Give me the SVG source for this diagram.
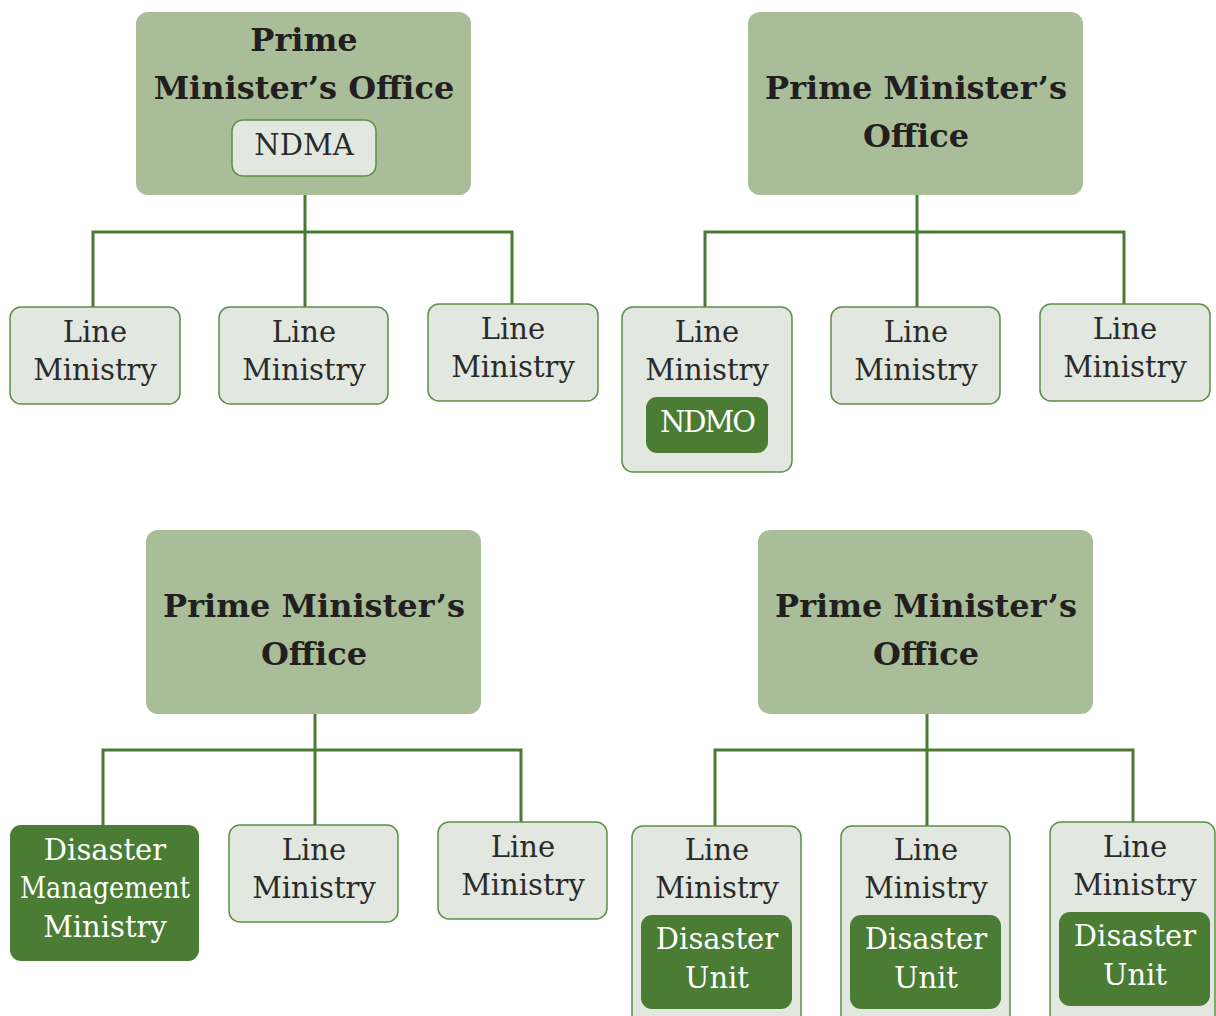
<svg xmlns="http://www.w3.org/2000/svg" width="1216" height="1016" viewBox="0 0 1216 1016">
<style>
.pmo{fill:#a9be98;}
.lm{fill:#e2e7df;stroke:#5e8f47;stroke-width:1.5;}
.dk{fill:#4a7c34;}
.t{font-family:"DejaVu Serif","Liberation Serif",serif;font-weight:bold;font-size:32px;fill:#231f20;text-anchor:middle;}
.b{font-family:"DejaVu Serif","Liberation Serif",serif;font-size:29px;fill:#2a2a2a;text-anchor:middle;}
.w{font-family:"DejaVu Serif","Liberation Serif",serif;font-size:29px;fill:#ffffff;text-anchor:middle;}
.c{fill:none;stroke:#4a7a33;stroke-width:3;}
</style>
<g id="connectors">
<path class="c" d="M305 195V232M93 307V232H512V304M305 232V307"/>
<path class="c" d="M917 195V232M705 307V232H1124V304M917 232V307"/>
<path class="c" d="M315 714V750M103 825V750H521V822M315 750V825"/>
<path class="c" d="M927 714V750M715 826V750H1133V822M927 750V826"/>
</g>
<g id="pmo1">
<rect class="pmo" x="136" y="12" width="335" height="183" rx="12"/>
<text class="t" x="304" y="51">Prime</text>
<text class="t" x="304" y="99">Minister’s Office</text>
</g>
<g id="ndma">
<rect class="lm" x="232" y="120" width="144" height="56" rx="11"/>
<text class="b" x="304" y="155">NDMA</text>
</g>
<g id="lm1"><rect class="lm" x="10" y="307" width="170" height="97" rx="11"/><text class="b" x="95" y="342">Line</text><text class="b" x="95" y="380">Ministry</text></g>
<g id="lm2"><rect class="lm" x="219" y="307" width="169" height="97" rx="11"/><text class="b" x="304" y="342">Line</text><text class="b" x="304" y="380">Ministry</text></g>
<g id="lm3"><rect class="lm" x="428" y="304" width="170" height="97" rx="11"/><text class="b" x="513" y="339">Line</text><text class="b" x="513" y="377">Ministry</text></g>

<g id="pmo2">
<rect class="pmo" x="748" y="12" width="335" height="183" rx="12"/>
<text class="t" x="916" y="99">Prime Minister’s</text>
<text class="t" x="916" y="147">Office</text>
</g>
<g id="lm4"><rect class="lm" x="622" y="307" width="170" height="165" rx="11"/><text class="b" x="707" y="342">Line</text><text class="b" x="707" y="380">Ministry</text></g>
<g id="ndmo"><rect class="dk" x="646" y="397" width="122" height="56" rx="11"/><text class="w" x="707" y="432" letter-spacing="-2">NDMO</text></g>
<g id="lm5"><rect class="lm" x="831" y="307" width="169" height="97" rx="11"/><text class="b" x="916" y="342">Line</text><text class="b" x="916" y="380">Ministry</text></g>
<g id="lm6"><rect class="lm" x="1040" y="304" width="170" height="97" rx="11"/><text class="b" x="1125" y="339">Line</text><text class="b" x="1125" y="377">Ministry</text></g>

<g id="pmo3">
<rect class="pmo" x="146" y="530" width="335" height="184" rx="12"/>
<text class="t" x="314" y="617">Prime Minister’s</text>
<text class="t" x="314" y="665">Office</text>
</g>
<g id="dmm"><rect class="dk" x="10" y="825" width="189" height="136" rx="11"/>
<text class="w" x="105" y="860">Disaster</text>
<text class="w" x="105" y="898" textLength="170" lengthAdjust="spacingAndGlyphs">Management</text>
<text class="w" x="105" y="937">Ministry</text></g>
<g id="lm7"><rect class="lm" x="229" y="825" width="169" height="97" rx="11"/><text class="b" x="314" y="860">Line</text><text class="b" x="314" y="898">Ministry</text></g>
<g id="lm8"><rect class="lm" x="438" y="822" width="169" height="97" rx="11"/><text class="b" x="523" y="857">Line</text><text class="b" x="523" y="895">Ministry</text></g>

<g id="pmo4">
<rect class="pmo" x="758" y="530" width="335" height="184" rx="12"/>
<text class="t" x="926" y="617">Prime Minister’s</text>
<text class="t" x="926" y="665">Office</text>
</g>
<g id="lm9"><rect class="lm" x="632" y="826" width="169" height="210" rx="11"/><text class="b" x="717" y="860">Line</text><text class="b" x="717" y="898">Ministry</text></g>
<g id="du1"><rect class="dk" x="641" y="915" width="151" height="94" rx="11"/><text class="w" x="717" y="949">Disaster</text><text class="w" x="717" y="988">Unit</text></g>
<g id="lm10"><rect class="lm" x="841" y="826" width="169" height="210" rx="11"/><text class="b" x="926" y="860">Line</text><text class="b" x="926" y="898">Ministry</text></g>
<g id="du2"><rect class="dk" x="850" y="915" width="151" height="94" rx="11"/><text class="w" x="926" y="949">Disaster</text><text class="w" x="926" y="988">Unit</text></g>
<g id="lm11"><rect class="lm" x="1050" y="822" width="165" height="210" rx="11"/><text class="b" x="1135" y="857">Line</text><text class="b" x="1135" y="895">Ministry</text></g>
<g id="du3"><rect class="dk" x="1059" y="912" width="151" height="94" rx="11"/><text class="w" x="1135" y="946">Disaster</text><text class="w" x="1135" y="985">Unit</text></g>
</svg>
